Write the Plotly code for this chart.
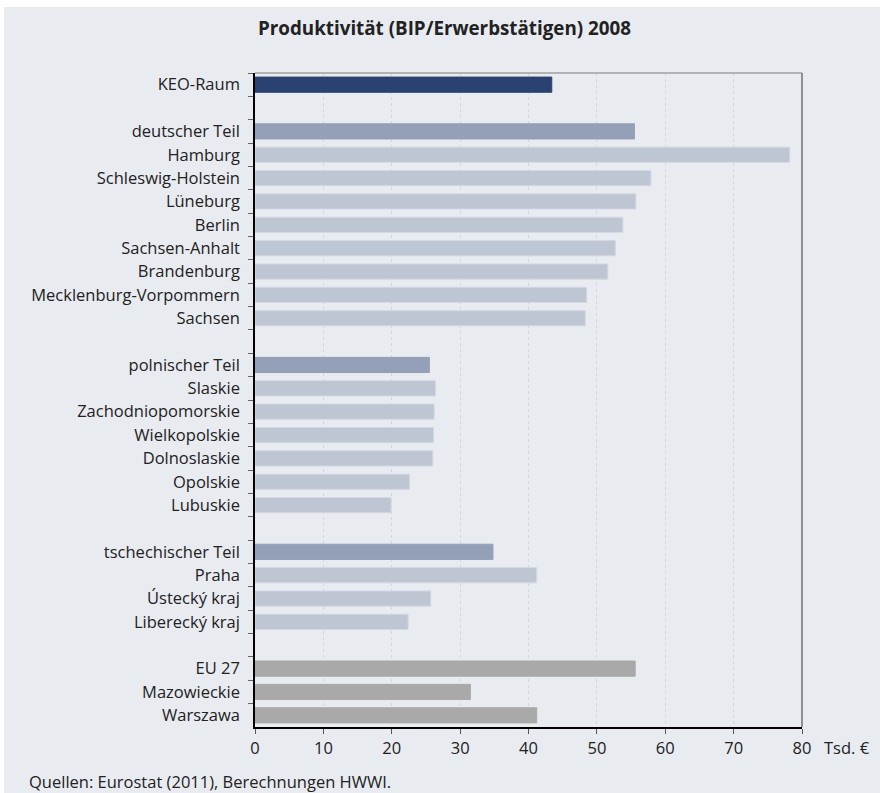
import plotly.graph_objects as go

categories = [
    "KEO-Raum", " ",
    "deutscher Teil", "Hamburg", "Schleswig-Holstein", "Lüneburg", "Berlin",
    "Sachsen-Anhalt", "Brandenburg", "Mecklenburg-Vorpommern", "Sachsen", "  ",
    "polnischer Teil", "Slaskie", "Zachodniopomorskie", "Wielkopolskie",
    "Dolnoslaskie", "Opolskie", "Lubuskie", "   ",
    "tschechischer Teil", "Praha", "Ústecký kraj", "Liberecký kraj", "    ",
    "EU 27", "Mazowieckie", "Warszawa",
]
values = [
    43.4, None,
    55.5, 78.2, 57.9, 55.7, 53.8, 52.7, 51.6, 48.5, 48.3, None,
    25.5, 26.4, 26.2, 26.1, 26.0, 22.6, 19.9, None,
    34.8, 41.2, 25.7, 22.4, None,
    55.6, 31.5, 41.2,
]
groups = [
    "total", "gap",
    "part", "region", "region", "region", "region", "region", "region", "region", "region", "gap",
    "part", "region", "region", "region", "region", "region", "region", "gap",
    "part", "region", "region", "region", "gap",
    "ref", "ref", "ref",
]
x_ticks = [0, 10, 20, 30, 40, 50, 60, 70, 80]

fill = {"total": "#2a4270", "part": "#94a0b8", "region": "#bec5d3", "ref": "#a9a9a9", "gap": "rgba(0,0,0,0)"}
edge = {"total": "#2a4270", "part": "#94a0b8", "region": "#d3d8e1", "ref": "#a9a9a9", "gap": "rgba(0,0,0,0)"}

BG = "#e8ebf0"
FONT = "Open Sans"
FS = 16.5

fig = go.Figure(go.Bar(
    x=[v if v is not None else 0 for v in values],
    y=categories,
    orientation="h",
    width=0.65,
    marker=dict(color=[fill[g] for g in groups],
                line=dict(color=[edge[g] for g in groups], width=1)),
    hoverinfo="x+y",
))

L, R, T, B = 255, 78, 73, 66
W, H = 880, 793
pw, ph = W - L - R, H - T - B

def px_x(p):
    return (p - L) / pw

def px_y(p):
    return (H - B - p) / ph

fig.update_layout(
    width=W, height=H,
    margin=dict(l=L, r=R, t=T, b=B),
    paper_bgcolor="white",
    plot_bgcolor=BG,
    showlegend=False,
    font=dict(family=FONT, size=FS, color="#222222"),
    bargap=0.35,
    xaxis=dict(
        range=[0, 80], tickvals=x_ticks, ticktext=[str(t) for t in x_ticks],
        showgrid=True, gridcolor="#d3d6dc", griddash="dot", gridwidth=1,
        showline=True, linecolor="#000000", linewidth=1.5,
        ticks="outside", ticklen=5, tickcolor="#555555", tickwidth=1,
        zeroline=False, fixedrange=True,
        tickfont=dict(size=FS, color="#222222"),
    ),
    yaxis=dict(
        type="category", categoryorder="array", categoryarray=categories,
        autorange="reversed",
        showline=True, linecolor="#000000", linewidth=1.5,
        ticks="outside", ticklen=5, tickcolor="#666666", tickwidth=1,
        tickson="boundaries", showgrid=False, ticklabelstandoff=10,
        tickfont=dict(size=FS, color="#222222"),
        fixedrange=True,
    ),
    shapes=[
        dict(type="rect", xref="paper", yref="paper", layer="below",
             x0=px_x(4), x1=px_x(W + 2), y0=px_y(7), y1=px_y(H + 2),
             fillcolor=BG, line=dict(width=0)),
        dict(type="line", xref="paper", yref="paper", x0=0, x1=1, y0=1, y1=1,
             line=dict(color="#a0a0a0", width=1.5)),
        dict(type="line", xref="paper", yref="paper", x0=1, x1=1, y0=0, y1=1,
             line=dict(color="#707070", width=1.5)),
    ],
    annotations=[
        dict(text="<b>Produktivität (BIP/Erwerbstätigen) 2008</b>", xref="paper", yref="paper",
             x=px_x(444), y=px_y(28), xanchor="center", yanchor="middle", showarrow=False,
             font=dict(family=FONT, size=18.8, color="#222222")),
        dict(text="Tsd. €", xref="paper", yref="paper",
             x=px_x(822), y=px_y(747), xanchor="left", yanchor="middle", showarrow=False,
             font=dict(family=FONT, size=FS, color="#222222")),
        dict(text="Quellen: Eurostat (2011), Berechnungen HWWI.", xref="paper", yref="paper",
             x=px_x(27), y=px_y(782), xanchor="left", yanchor="middle", showarrow=False,
             font=dict(family=FONT, size=FS, color="#222222")),
    ],
)

fig.write_html("out.html", config={"displayModeBar": False},
               post_script="document.body.style.margin='0';document.body.style.overflow='hidden';")
